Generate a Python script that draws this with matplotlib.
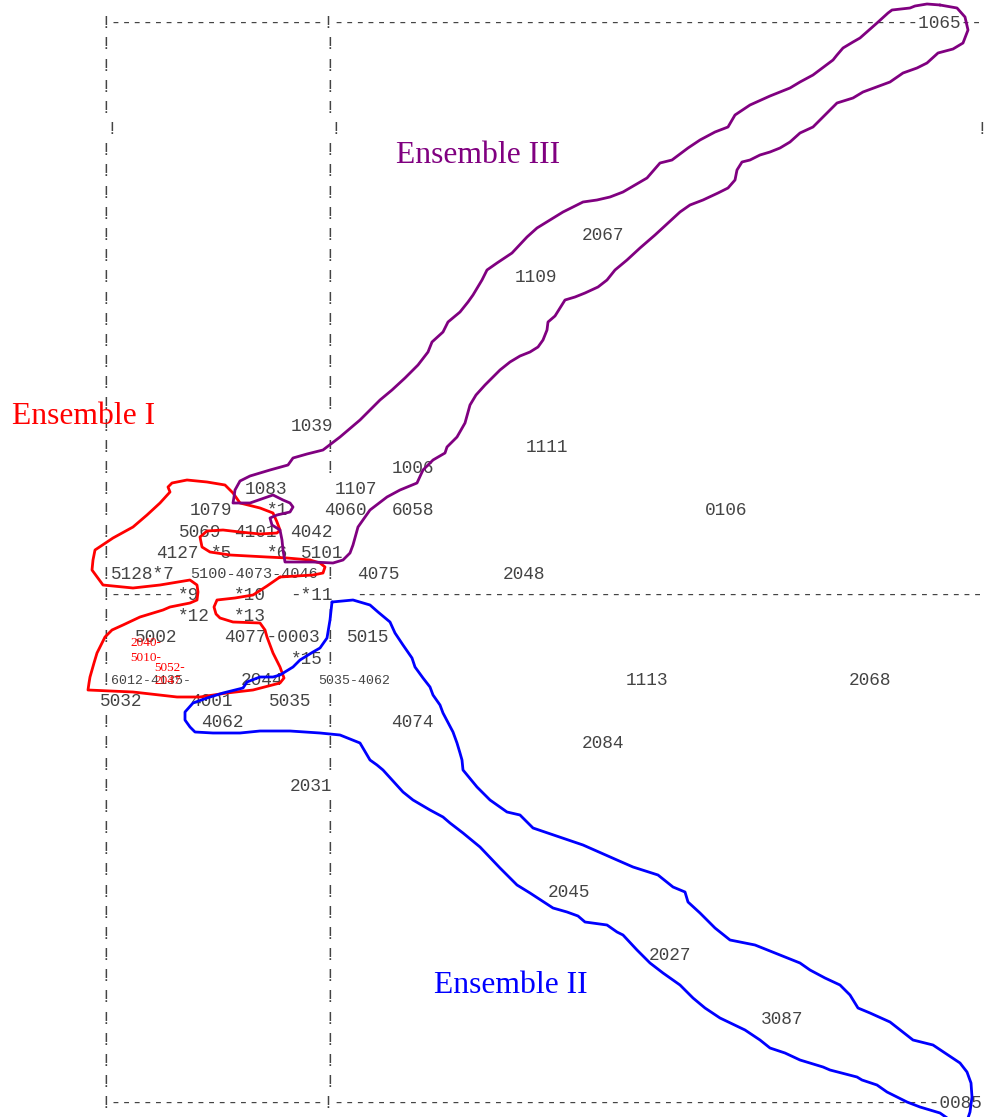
import matplotlib
matplotlib.use("Agg")
import matplotlib.pyplot as plt

# printed factor map: page grid (original page units, 1 unit = 1 px)
X0, CW = 100.7, 10.65      # left edge of column 0, width of one character
Y0, RH = 22.0, 21.18       # centre of row 0, height of one line
N_COLS, MID_COL = 83, 21
AXIS_ROW, LAST_ROW = 27, 51
AXIS_GAP = (7, 24)         # blank stretch of the horizontal axis
SHIFTED_ROW, SHIFT = 5, 6  # one line printed half a column to the right

# labels printed inside the frame lines: text, row, column
border_labels = [("1065", 0, 77), ("0085", LAST_ROW, 79)]

# frame "!" knocked out by point labels: row -> columns
bang_skip = {19: [21], 22: [21], 23: [21], 24: [21], 25: [21],
             31: [21], 32: [0], 36: [21]}

# individuals / centres on the plane: text, x (start), row
points = [
    ("2067", 581.5, 10), ("1109", 514.5, 12), ("1039", 290.5, 19),
    ("1111", 525.5, 20), ("1006", 391.5, 21),
    ("1083", 245.0, 22), ("1107", 335.0, 22),
    ("1079", 189.5, 23), ("*1", 266.5, 23), ("4060", 324.5, 23),
    ("6058", 391.5, 23), ("0106", 705.0, 23),
    ("5069", 178.5, 24), ("4101", 234.0, 24), ("4042", 290.0, 24),
    ("4127", 156.5, 25), ("*5", 211.0, 25), ("*6", 267.0, 25), ("5101", 301.0, 25),
    ("5128*7", 111.4, 26), ("4075", 357.5, 26), ("2048", 502.5, 26),
    ("*9", 177.5, 27), ("*10", 234.0, 27), ("-*11", 290.5, 27),
    ("*12", 177.5, 28), ("*13", 234.0, 28),
    ("5002", 134.5, 29), ("4077-0003", 224.0, 29), ("5015", 346.5, 29),
    ("*15", 291.0, 30),
    ("2044", 240.5, 31), ("1113", 625.5, 31), ("2068", 849.0, 31),
    ("5032", 100.0, 32), ("4001", 190.0, 32), ("5035", 268.5, 32),
    ("4062", 201.0, 33), ("4074", 391.5, 33), ("2084", 581.5, 34),
    ("2031", 290.0, 36), ("2045", 547.5, 41), ("2027", 648.5, 44),
    ("3087", 760.5, 47),
]
# superposed points printed in a smaller type: text, x, row, size
small_points = [("5100-4073-4046", 190.0, 26, 11.0),
                ("6012-4135-", 111.5, 31, 9.5),
                ("5035-4062", 318.5, 31, 9.5)]
# hand-written additions (red): text, x, y
red_notes = [("2040-", 130.0, 641.7), ("5010-", 130.0, 656.7),
             ("5052-", 154.5, 666.5), ("2047", 154.5, 680.0)]

# group names: text, x, baseline, colour
groups = [("Ensemble I", 12.0, 424.3, "#ff0000"),
          ("Ensemble II", 433.5, 992.7, "#0000ff"),
          ("Ensemble III", 396.5, 162.7, "#800080")]

# hand-drawn group outlines (page units)
ens1 = [(280, 577), (267, 586), (253, 595), (235, 598), (217, 600), (214, 607),
        (216, 614), (220, 618), (233, 622), (260, 623), (265, 630), (267, 637),
        (270, 645), (273, 653), (280, 667), (284, 678), (280, 683), (253, 690),
        (227, 693), (200, 697), (177, 697), (133, 692), (88, 690), (89, 683),
        (90, 677), (94, 663), (97, 653), (105, 637), (112, 630), (123, 625),
        (140, 617), (163, 610), (170, 607), (190, 603), (197, 600), (198, 592),
        (197, 585), (190, 580), (160, 585), (133, 588), (103, 585), (92, 570),
        (93, 560), (95, 550), (113, 538), (133, 527), (147, 515), (160, 503),
        (170, 492), (168, 487), (172, 483), (187, 480), (207, 482), (225, 485),
        (233, 493), (240, 503), (260, 508), (273, 513), (277, 522), (280, 530),
        (277, 533), (260, 534), (240, 532), (223, 530), (207, 531), (200, 537),
        (202, 547), (210, 552), (230, 555), (267, 557), (287, 558), (310, 560),
        (320, 563), (325, 567), (323, 573), (313, 575), (280, 577)]

ens2 = [(332, 602), (353, 600), (370, 605), (378, 612), (390, 622), (395, 633),
        (403, 645), (412, 658), (415, 667), (423, 678), (430, 687), (433, 695),
        (440, 705), (443, 713), (453, 732), (457, 743), (460, 753), (462, 760),
        (463, 770), (477, 787), (490, 800), (507, 812), (520, 815), (533, 828),
        (583, 845), (617, 860), (633, 867), (658, 875), (673, 887), (685, 892),
        (688, 902), (700, 913), (715, 928), (730, 940), (755, 945), (775, 953),
        (800, 963), (810, 970), (825, 978), (840, 985), (850, 995), (858, 1008),
        (870, 1013), (890, 1022), (913, 1040), (933, 1045), (945, 1053),
        (960, 1063), (967, 1072), (971, 1083), (972, 1097), (970, 1112),
        (966, 1124), (958, 1126), (950, 1120), (940, 1113), (920, 1107),
        (907, 1102), (887, 1092), (877, 1085), (862, 1080), (857, 1077),
        (830, 1070), (823, 1067), (800, 1060), (785, 1053), (770, 1048),
        (760, 1040), (745, 1030), (720, 1018), (705, 1008), (693, 998),
        (680, 985), (663, 973), (650, 963), (637, 950), (623, 935), (617, 932),
        (607, 925), (585, 922), (578, 916), (567, 912), (553, 908), (530, 893),
        (517, 885), (500, 868), (480, 847), (463, 833), (450, 823), (443, 817),
        (430, 810), (413, 800), (403, 792), (383, 770), (377, 765), (370, 760),
        (360, 743), (340, 735), (320, 733), (290, 731), (260, 731), (240, 733),
        (213, 733), (195, 732), (190, 727), (185, 720), (185, 712), (193, 703),
        (207, 698), (223, 693), (243, 688), (247, 682), (260, 677), (273, 677),
        (280, 675), (293, 667), (300, 660), (313, 652), (320, 648), (327, 638),
        (330, 620), (332, 602)]

ens3 = [(940, 5), (927, 4), (915, 6), (910, 8), (892, 10), (888, 13), (877, 23),
        (860, 38), (853, 42), (843, 48), (837, 55), (833, 60), (813, 75),
        (800, 82), (790, 88), (770, 96), (750, 105), (735, 115), (728, 127),
        (715, 132), (700, 140), (688, 148), (672, 160), (660, 163), (647, 178),
        (630, 188), (623, 192), (610, 197), (597, 200), (583, 202), (577, 205),
        (563, 212), (550, 220), (537, 228), (527, 237), (512, 253), (497, 263),
        (487, 270), (482, 280), (473, 295), (468, 302), (460, 312), (448, 322),
        (443, 332), (432, 342), (428, 352), (418, 365), (405, 378), (392, 390),
        (380, 400), (360, 420), (340, 437), (323, 450), (307, 454), (293, 458),
        (288, 465), (270, 470), (250, 476), (240, 481), (235, 490), (234, 497),
        (233, 503), (250, 503), (273, 495), (283, 500), (290, 503), (293, 507),
        (290, 512), (277, 515), (270, 518), (272, 525), (280, 530), (282, 540),
        (283, 550), (285, 562), (313, 562), (333, 563), (343, 560), (350, 553),
        (353, 545), (358, 527), (370, 510), (387, 497), (400, 490), (417, 483),
        (423, 470), (433, 460), (445, 453), (447, 447), (457, 437), (465, 423),
        (470, 405), (476, 395), (485, 385), (500, 370), (510, 362), (520, 356),
        (530, 352), (538, 347), (543, 340), (547, 330), (548, 322), (555, 316),
        (565, 300), (575, 297), (585, 293), (598, 287), (607, 280), (615, 270),
        (627, 260), (640, 248), (655, 235), (668, 223), (680, 212), (690, 205),
        (703, 200), (718, 193), (728, 188), (735, 180), (737, 170), (742, 162),
        (750, 160), (760, 155), (770, 152), (780, 148), (790, 142), (800, 133),
        (813, 127), (827, 113), (837, 103), (853, 98), (863, 92), (890, 82),
        (903, 73), (917, 68), (927, 63), (938, 53), (953, 49), (963, 43),
        (968, 30), (965, 17), (957, 8), (940, 5)]

INK = "#444444"
MONO = "Liberation Mono"
SERIF = "Liberation Serif"
BASE = 6.2   # baseline below the line centre

fig = plt.figure(figsize=(9.85, 11.17), dpi=100)
ax = fig.add_axes([0, 0, 1, 1])
ax.set_xlim(0, 985)
ax.set_ylim(1117, 0)
ax.axis("off")


def row_y(r):
    return Y0 + RH * r


def mono(x, r, s, size=12.78, dy=BASE):
    ax.text(x, row_y(r) + dy, s, family=MONO, fontsize=size, color=INK,
            ha="left", va="baseline", zorder=2)


# top / bottom frame lines
for r in (0, LAST_ROW):
    chars = list("!" + "-" * (MID_COL - 1) + "!" + "-" * (N_COLS - MID_COL - 1))
    for s, lr, c in border_labels:
        if lr == r:
            chars[c:c + len(s)] = s
    mono(X0, r, "".join(chars))

# horizontal axis, in two pieces around the crowded centre
a, b = AXIS_GAP
mono(X0, AXIS_ROW, "!" + "-" * (a - 1))
mono(X0 + b * CW, AXIS_ROW, "-" * (N_COLS - b))

# vertical frame and axis
for r in range(1, LAST_ROW):
    if r == AXIS_ROW:
        continue
    shift = SHIFT if r == SHIFTED_ROW else 0
    for c in (0, MID_COL):
        if c in bang_skip.get(r, []):
            continue
        mono(X0 + c * CW + shift, r, "!")
mono(X0 + 82 * CW + SHIFT - 4, SHIFTED_ROW, "!")

for s, x, r in points:
    mono(x, r, s)
for s, x, r, size in small_points:
    mono(x, r, s, size=size, dy=BASE - 0.6)
for s, x, y in red_notes:
    ax.text(x, y + 4.4, s, family=SERIF, fontsize=9.5, color="#ff0000",
            ha="left", va="baseline", zorder=2)

for s, x, y, col in groups:
    ax.text(x, y, s, family=SERIF, fontsize=22.8, color=col,
            ha="left", va="baseline", zorder=2)

for path, col in ((ens1, "#ff0000"), (ens2, "#0000ff"), (ens3, "#800080")):
    xs = [p[0] for p in path]
    ys = [p[1] for p in path]
    ax.plot(xs, ys, color=col, lw=2.0, solid_joinstyle="round",
            solid_capstyle="round", zorder=3)

fig.savefig("out.png", dpi=100)
